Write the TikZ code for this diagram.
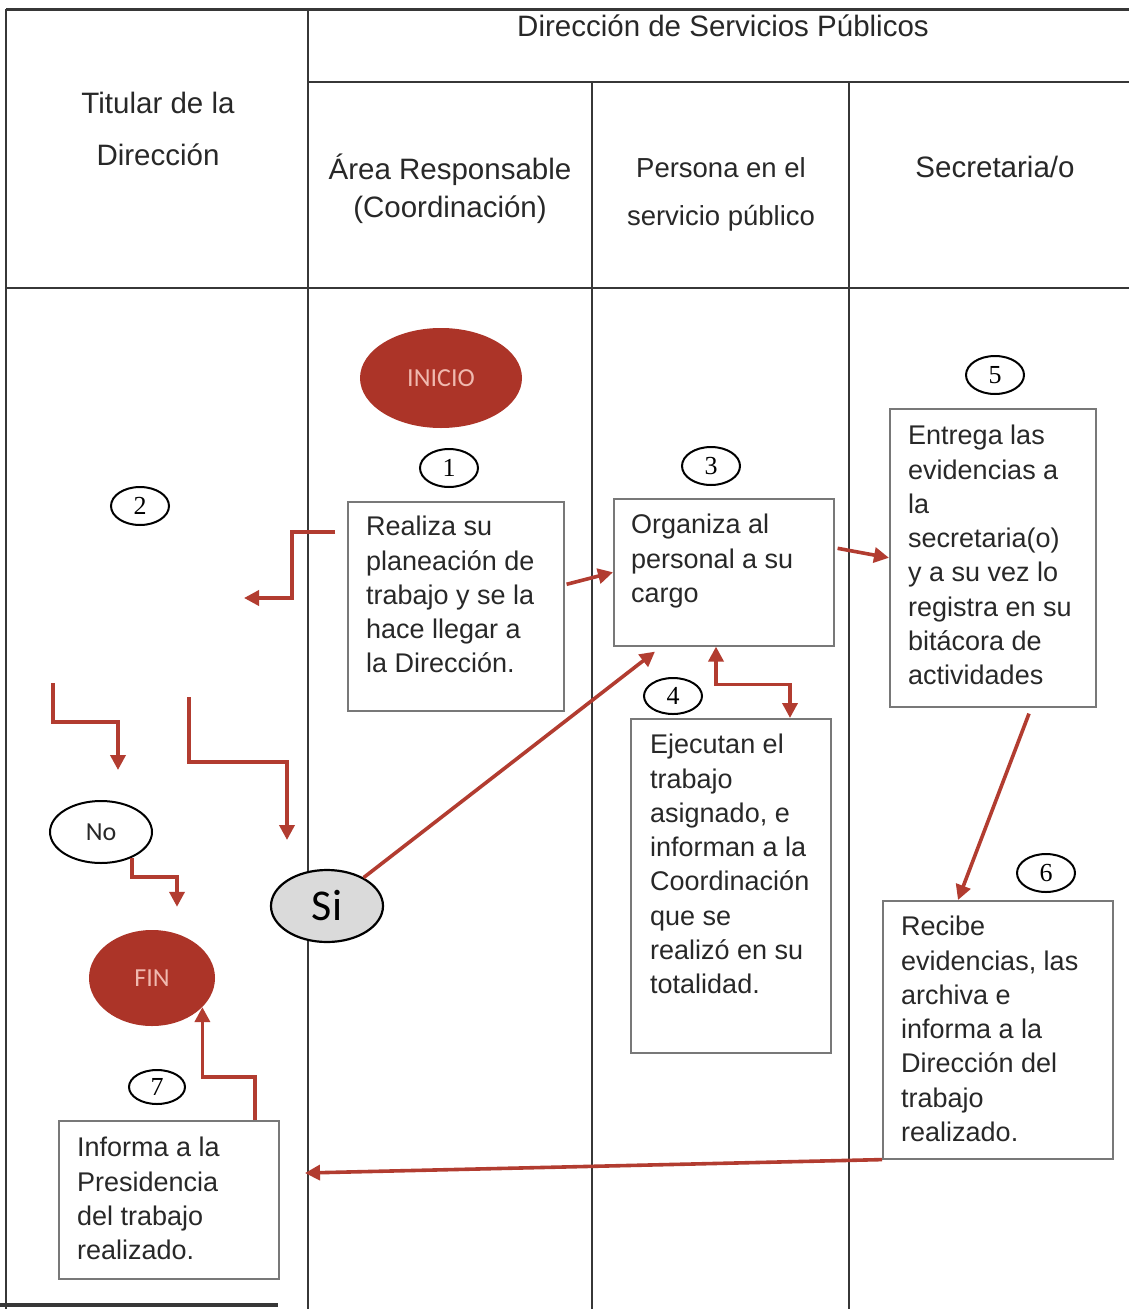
\documentclass[tikz,border=0pt]{standalone}
\usepackage{fontspec}
\setmainfont{Liberation Sans}
\newfontfamily\calib{Carlito}
\newfontfamily\numf{Liberation Serif}
\usetikzlibrary{shapes.geometric,arrows.meta}
\definecolor{redfill}{RGB}{172,52,40}
\definecolor{redline}{RGB}{178,60,48}
\definecolor{pinktxt}{RGB}{240,185,175}
\definecolor{tabline}{RGB}{55,55,55}
\definecolor{boxline}{RGB}{120,120,120}
\definecolor{txtc}{RGB}{40,40,40}
\definecolor{sigray}{RGB}{218,218,218}
\begin{document}
\begin{tikzpicture}[x=1pt,y=-1pt,
  tab/.style={draw=tabline, line width=2.2},
  hdr/.style={text=txtc, align=center, inner sep=0},
  box/.style={draw=boxline, line width=1.6, anchor=north west, inner sep=0},
  txt/.style={text=txtc, anchor=north west, align=left, inner sep=0, font=\fontsize{27}{34.3}\selectfont},
  num/.style={ellipse, draw=black, line width=2, minimum width=58, minimum height=38, inner sep=0, font=\numf\fontsize{26}{26}\selectfont},
  term/.style={ellipse, fill=redfill, inner sep=0, text=pinktxt, font=\calib\fontsize{26}{26}\selectfont},
  arr/.style={draw=redline, line width=3.6, -{Triangle[length=15,width=15]}},
  arrb/.style={draw=redline, line width=3.6, {Triangle[length=15,width=15]}-{Triangle[length=15,width=15]}}
]
\useasboundingbox (0,0) rectangle (1129,1309);
\fill[white] (0,0) rectangle (1129,1309);

% table
\draw[tab, line width=3] (6,9) -- (1129,9);
\draw[tab] (6,9) -- (6,1309);
\draw[tab] (308,9) -- (308,1309);
\draw[tab] (308,82) -- (1129,82);
\draw[tab] (592,82) -- (592,1309);
\draw[tab] (849,82) -- (849,1309);
\draw[tab] (6,288) -- (1129,288);
\draw[tab, line width=4] (0,1305) -- (278,1305);

% headers
\node[hdr, font=\fontsize{29.5}{30}\selectfont] (hDSP) at (723,26) {Dirección de Servicios Públicos};
\node[hdr, font=\fontsize{29.5}{52}\selectfont] (hTit) at (158,129) {Titular de la\\Dirección};
\node[hdr, font=\fontsize{29.5}{38}\selectfont] (hArea) at (450,189) {Área Responsable\\(Coordinación)};
\node[hdr, font=\fontsize{27.5}{48}\selectfont] (hPers) at (721,194) {Persona en el\\servicio público};
\node[hdr, font=\fontsize{29.5}{30}\selectfont] (hSec) at (995,167) {Secretaria/o};

% terminals and decisions
\node[term, minimum width=162, minimum height=100] (ini) at (441,378) {INICIO};
\node[term, minimum width=126, minimum height=96] (fin) at (152,978) {FIN};
\node[ellipse, draw=black, line width=2, minimum width=102, minimum height=62, inner sep=0, text=txtc, font=\calib\fontsize{26}{26}\selectfont] (no) at (101,832) {No};
\node[ellipse, draw=black, line width=2.2, fill=sigray, minimum width=112, minimum height=72, inner sep=0, text=black, font=\calib\fontsize{44}{44}\selectfont] (si) at (327,906) {Si};

% number labels
\node[num] (n1) at (449,468) {1};
\node[num] (n2) at (140,506) {2};
\node[num] (n3) at (711,466) {3};
\node[num, minimum height=36] (n4) at (673,696) {4};
\node[num] (n5) at (995,375) {5};
\node[num] (n6) at (1046,873) {6};
\node[num, minimum width=56, minimum height=34] (n7) at (157,1087) {7};

% boxes
\node[box, minimum width=216, minimum height=209] (b1) at (347,501) {};
\node[txt] (t1) at (366,516) {Realiza su\\planeación de\\trabajo y se la\\hace llegar a\\la Dirección.};
\node[box, minimum width=220, minimum height=147] (b3) at (613,498) {};
\node[txt] (t3) at (631,514) {Organiza al\\personal a su\\cargo};
\node[box, minimum width=206, minimum height=298] (b5) at (889,408) {};
\node[txt] (t5) at (908,425) {Entrega las\\evidencias a\\la\\secretaria(o)\\y a su vez lo\\registra en su\\bitácora de\\actividades};
\node[box, minimum width=200, minimum height=334] (b4) at (630,718) {};
\node[txt] (t4) at (650,734) {Ejecutan el\\trabajo\\asignado, e\\informan a la\\Coordinación\\que se\\realizó en su\\totalidad.};
\node[box, minimum width=230, minimum height=258] (b6) at (882,900) {};
\node[txt] (t6) at (901,916) {Recibe\\evidencias, las\\archiva e\\informa a la\\Dirección del\\trabajo\\realizado.};
\node[box, minimum width=220, minimum height=158] (b7) at (58,1120) {};
\node[txt] (t7) at (77,1137) {Informa a la\\Presidencia\\del trabajo\\realizado.};

% free ends
\coordinate (e2) at (244,598);
\coordinate (sb) at (53,683);
\coordinate (eb) at (118,770);
\coordinate (sc) at (189,697);
\coordinate (ec) at (287,840);
\coordinate (ei) at (305,1173);

% connectors
\draw[arr] ([shift={(-12,31)}]b1.north west) -- ++(-43,0) |- (e2);
\draw[arr] (sb) -- ++(0,39) -| (eb);
\draw[arr] (sc) -- ++(0,65) -| (ec);
\draw[arr] (si) -- ([shift={(42,5)}]b3.south west);
\draw[arr] ([shift={(2,-22)}]b1.east) -- (b3.west);
\draw[arr] ([shift={(3,-24)}]b3.east) -- (b5.west);
\draw[arrb] ([xshift=103]b3.south west) -- ++(0,38) -| ([xshift=160]b4.north west);
\draw[arr] ([shift={(140,6)}]b5.south west) -- ([xshift=76]b6.north west);
\draw[arr] (b6.south west) -- (ei);
\draw[arr] ([xshift=197]b7.north west) -- ++(0,-43) -| (fin.-30);
\draw[arr] (no.-40) -- ++(0,19) -| ([shift={(25,-23)}]fin.north);
\end{tikzpicture}
\end{document}
